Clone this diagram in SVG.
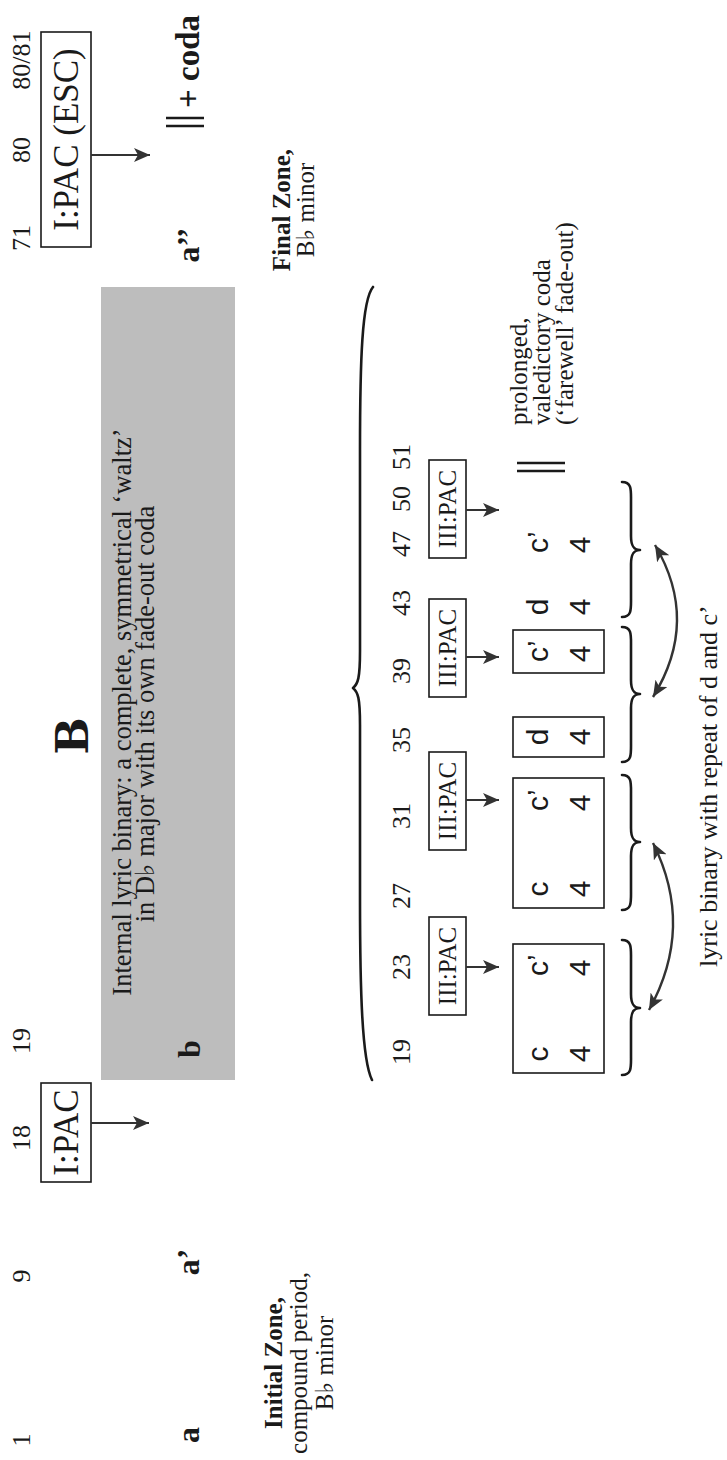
<svg xmlns="http://www.w3.org/2000/svg" width="727" height="1460" viewBox="0 0 727 1460">
<defs>
<style>
text{font-family:"Liberation Serif","DejaVu Serif",serif;fill:#1a1a1a}
.num{font-size:26px;text-anchor:middle}
.lab{font-size:32px;font-weight:bold;text-anchor:middle}
.box{fill:none;stroke:#1a1a1a;stroke-width:1.6}
.pac{font-size:25px;text-anchor:middle}
.big{font-size:35px;text-anchor:middle}
.cell{font-family:"Liberation Sans","DejaVu Sans",sans-serif;font-size:30px;text-anchor:middle}
.cells{font-family:"Liberation Sans","DejaVu Sans",sans-serif;font-size:30px}
.note{font-size:25px}
.gnote{font-size:26.5px;text-anchor:middle}
.zone{font-size:25px;text-anchor:middle}
.arr{fill:none;stroke:#333;stroke-width:2;marker-end:url(#ah)}
.darr{fill:none;stroke:#333;stroke-width:2.4;marker-start:url(#ah);marker-end:url(#ah)}
.brace{fill:none;stroke:#1a1a1a;stroke-width:2.6;stroke-linecap:round;stroke-linejoin:round}
.bar{stroke:#1a1a1a;stroke-width:2.5}
</style>
<marker id="ah" markerUnits="userSpaceOnUse" markerWidth="16" markerHeight="14" refX="16" refY="7" orient="auto-start-reverse"><path d="M0,0 L16,7 L0,14 L4,7 Z" fill="#333"/></marker>
</defs>
<rect width="727" height="1460" fill="#fff"/>
<g transform="translate(0,1460) rotate(-90)">
  <g id="bar-numbers-top">
    <text class="num" x="20" y="30">1</text>
    <text class="num" x="184" y="30">9</text>
    <text class="num" x="322" y="30">18</text>
    <text class="num" x="419" y="30">19</text>
    <text class="num" x="1222" y="30">71</text>
    <text class="num" x="1310" y="30">80</text>
    <text class="num" x="1400" y="30">80/81</text>
  </g>
  <g id="node-ipac1">
    <rect class="box" x="278" y="41" width="99" height="50"/>
    <text class="big" x="327.5" y="78">I:PAC</text>
  </g>
  <g id="node-ipac-esc">
    <rect class="box" x="1213" y="41" width="215" height="50"/>
    <text class="big" x="1320.5" y="78">I:PAC (ESC)</text>
  </g>
  <g id="node-B">
    <rect x="380" y="101" width="793" height="134" fill="#bdbdbd"/>
    <text x="724" y="88" style="font-family:'DejaVu Serif',serif;font-size:44px;font-weight:bold;text-anchor:middle">B</text>
    <text class="gnote" x="748" y="131">Internal lyric binary: a complete, symmetrical ‘waltz’</text>
    <text class="gnote" x="746" y="154">in D♭ major with its own fade-out coda</text>
    <text class="lab" x="411" y="200">b</text>
  </g>
  <g id="node-sections">
    <text class="lab" x="25" y="199">a</text>
    <text class="lab" x="198" y="199">a’</text>
    <text class="lab" x="1215" y="199">a’’</text>
    <line class="bar" x1="1334" y1="166" x2="1334" y2="204"/>
    <line class="bar" x1="1342" y1="166" x2="1342" y2="204"/>
    <text x="1352" y="199" style="font-size:33px;font-weight:bold">+ coda</text>
  </g>
  <g id="node-initial-zone">
    <text class="zone" x="97" y="282" font-weight="bold">Initial Zone,</text>
    <text class="zone" x="97" y="307">compound period,</text>
    <text class="zone" x="97" y="333">B♭ minor</text>
  </g>
  <g id="node-final-zone">
    <text class="zone" x="1250" y="290" font-weight="bold">Final Zone,</text>
    <text class="zone" x="1250" y="314">B♭ minor</text>
  </g>
  <g id="braces">
    <path class="brace" d="M380,372 C400,362 470,360 560,360 L735,360 C762,360 768,358 772,353 C776,358 782,360 809,360 L1010,360 C1100,360 1160,362 1173,373"/>
    <path class="brace" d="M385,622 C385,632 393,631 405,631 L438,631 C447,631 452,633 452,640 C452,633 457,631 466,631 L500,631 C512,631 520,632 520,622"/>
    <path class="brace" d="M550,622 C550,632 558,631 570,631 L604,631 C613,631 618,633 618,640 C618,633 623,631 632,631 L665,631 C677,631 685,632 685,622"/>
    <path class="brace" d="M698,622 C698,632 706,631 718,631 L752,631 C761,631 766,633 766,640 C766,633 771,631 780,631 L813,631 C825,631 833,632 833,622"/>
    <path class="brace" d="M843,622 C843,632 851,631 863,631 L896,631 C905,631 910,633 910,640 C910,633 915,631 924,631 L958,631 C970,631 978,632 978,622"/>
  </g>
  <g id="bar-numbers-B">
    <text class="num" x="408" y="410">19</text>
    <text class="num" x="493" y="410">23</text>
    <text class="num" x="564" y="410">27</text>
    <text class="num" x="644" y="410">31</text>
    <text class="num" x="720" y="410">35</text>
    <text class="num" x="789" y="410">39</text>
    <text class="num" x="857" y="410">43</text>
    <text class="num" x="916" y="410">47</text>
    <text class="num" x="961" y="410">50</text>
    <text class="num" x="1003" y="410">51</text>
  </g>
  <g id="node-iiipac1">
    <rect class="box" x="445" y="429" width="98" height="37"/>
    <text class="pac" x="494" y="456">III:PAC</text>
  </g>
  <g id="node-iiipac2">
    <rect class="box" x="610" y="429" width="98" height="37"/>
    <text class="pac" x="659" y="456">III:PAC</text>
  </g>
  <g id="node-iiipac3">
    <rect class="box" x="763" y="429" width="98" height="37"/>
    <text class="pac" x="812" y="456">III:PAC</text>
  </g>
  <g id="node-iiipac4">
    <rect class="box" x="902" y="429" width="98" height="37"/>
    <text class="pac" x="951" y="456">III:PAC</text>
  </g>
  <g id="node-cc1">
    <rect class="box" x="387" y="513" width="129" height="91"/>
    <text class="cell" x="406" y="548">c</text>
    <text class="cells" x="484" y="548">c’</text>
    <text class="cell" x="406" y="590">4</text>
    <text class="cell" x="492" y="590">4</text>
  </g>
  <g id="node-cc2">
    <rect class="box" x="552" y="513" width="130" height="91"/>
    <text class="cell" x="571" y="548">c</text>
    <text class="cells" x="649" y="548">c’</text>
    <text class="cell" x="571" y="590">4</text>
    <text class="cell" x="657" y="590">4</text>
  </g>
  <g id="node-d1">
    <rect class="box" x="703" y="513" width="40" height="91"/>
    <text class="cell" x="723" y="548">d</text>
    <text class="cell" x="723" y="590">4</text>
  </g>
  <g id="node-c3">
    <rect class="box" x="787" y="513" width="43" height="91"/>
    <text class="cells" x="798" y="548">c’</text>
    <text class="cell" x="806" y="590">4</text>
  </g>
  <g id="node-d2">
    <text class="cell" x="853" y="548">d</text>
    <text class="cell" x="853" y="590">4</text>
  </g>
  <g id="node-c4">
    <text class="cells" x="907" y="548">c’</text>
    <text class="cell" x="915" y="590">4</text>
  </g>
  <g id="node-end-bar">
    <line class="bar" x1="989" y1="517" x2="989" y2="565"/>
    <line class="bar" x1="997" y1="517" x2="997" y2="565"/>
  </g>
  <g id="node-coda-note">
    <text class="note" x="1035" y="527">prolonged,</text>
    <text class="note" x="1035" y="550">valedictory coda</text>
    <text class="note" x="1035" y="573">(‘farewell’ fade-out)</text>
  </g>
  <g id="node-lyric-note">
    <text class="note" x="493" y="717" style="font-size:26px">lyric binary with repeat of d and c’</text>
  </g>
  <g id="connectors">
    <line class="arr" x1="337" y1="91" x2="337" y2="149"/>
    <line class="arr" x1="1305" y1="91" x2="1305" y2="150"/>
    <line class="arr" x1="493" y1="466" x2="493" y2="499"/>
    <line class="arr" x1="660" y1="466" x2="660" y2="499"/>
    <line class="arr" x1="803" y1="466" x2="803" y2="499"/>
    <line class="arr" x1="950" y1="466" x2="950" y2="499"/>
    <path class="darr" d="M450,649 Q533,695 617,653"/>
    <path class="darr" d="M763,653 Q839,700 915,655"/>
  </g>
</g>
</svg>
